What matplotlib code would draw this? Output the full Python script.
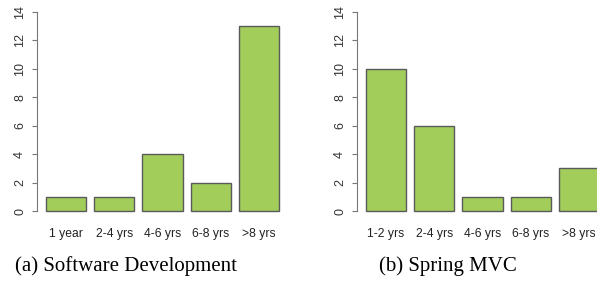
import matplotlib.pyplot as plt

# Experience survey counts
software_labels = ["1 year", "2-4 yrs", "4-6 yrs", "6-8 yrs", ">8 yrs"]
software_counts = [1, 1, 4, 2, 13]

spring_labels = ["1-2 yrs", "2-4 yrs", "4-6 yrs", "6-8 yrs", ">8 yrs"]
spring_counts = [10, 6, 1, 1, 3]

y_ticks = [0, 2, 4, 6, 8, 10, 12, 14]

bar_color = "#A2CD5A"  # darkolivegreen3 like R
W, H = 597, 286

fig = plt.figure(figsize=(W / 100, H / 100), dpi=100)


def draw_panel(left_px, labels, counts, caption, caption_x):
    # axes box in pixel units, converted to figure fractions
    ax_w = 251.6
    top, bottom = 4, 219
    ax = fig.add_axes([left_px / W, 1 - bottom / H, ax_w / W, (bottom - top) / H])
    pos = [0.7 + 1.2 * i for i in range(len(counts))]
    ax.bar(pos, counts, width=1.0, color=bar_color, edgecolor="#5a5a5a", linewidth=1.0)
    ax.set_xlim(-0.032, 6.232)
    ax.set_ylim(-0.56, 14.56)
    for s in ["top", "right", "bottom"]:
        ax.spines[s].set_visible(False)
    ax.spines["left"].set_bounds(0, 14)
    ax.spines["left"].set_color("#777777")
    ax.set_yticks(y_ticks)
    ax.set_yticklabels([str(t) for t in y_ticks], rotation=90, va="center",
                       fontsize=9, color="#333333", family="Liberation Sans")
    ax.tick_params(axis="y", direction="out", length=3.6, color="#777777", pad=4)
    ax.set_xticks(pos)
    ax.set_xticklabels(labels, fontsize=8.7, color="#222222", family="Liberation Sans")
    ax.tick_params(axis="x", length=0, pad=6.2)
    fig.text(caption_x / W, 1 - 266 / H, caption, ha="center", va="center",
             fontsize=15, family="Liberation Serif")
    return ax


draw_panel(36.7, software_labels, software_counts, "(a) Software Development", 126)
draw_panel(356.7, spring_labels, spring_counts, "(b) Spring MVC", 448)

fig.savefig("out.png", dpi=100)
